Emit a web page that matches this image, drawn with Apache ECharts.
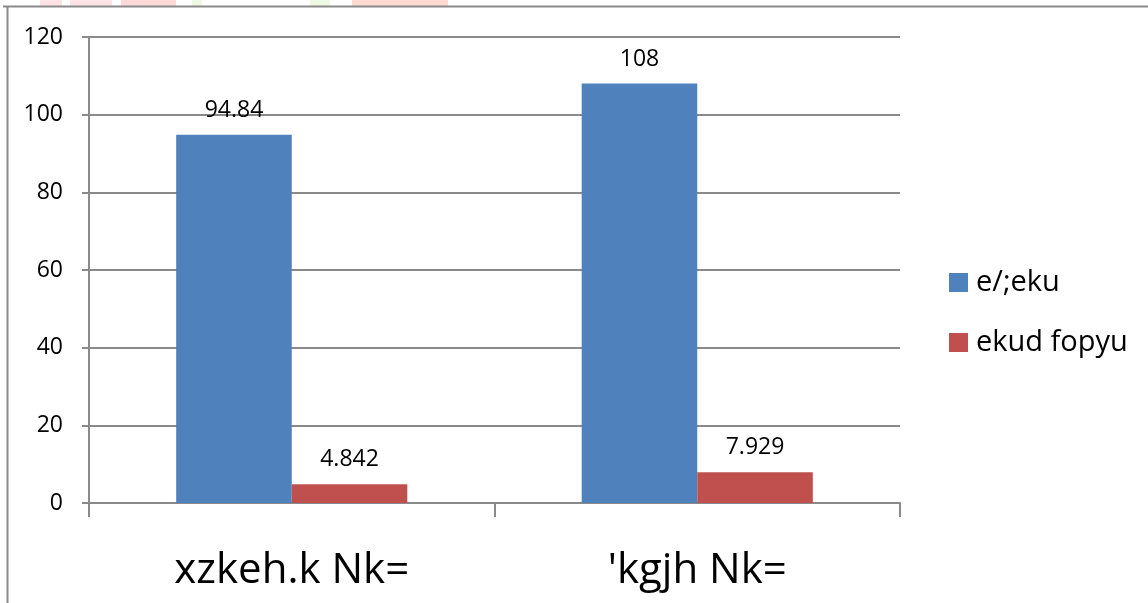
<!DOCTYPE html>
<html>
<head>
<meta charset="utf-8">
<script src="https://cdn.jsdelivr.net/npm/echarts@6/dist/echarts.min.js"></script>
<style>
  html, body { margin: 0; padding: 0; background: #fff; }
  #chart { width: 1148px; height: 603px; }
</style>
</head>
<body>
<div id="chart"></div>
<script>
// Category names and the two series
const categories = ['xzkeh.k Nk=', "'kgjh Nk="];
const seriesNames = ['e/;eku', 'ekud fopyu'];
const meanValues = [94.84, 108];
const sdValues = [4.842, 7.929];

const FONT = '"Open Sans", "Noto Sans", sans-serif';
const GRID_GRAY = '#8a8a8a';

const chart = echarts.init(document.getElementById('chart'), null, { renderer: 'canvas' });

const labelStyle = {
  show: true,
  position: 'top',
  distance: 13,
  color: '#000',
  fontFamily: FONT,
  fontSize: 23
};

chart.setOption({
  backgroundColor: '#fff',
  animation: false,
  graphic: [
    // faint coloured band along the top edge
    { type: 'rect', shape: { x: 40, y: 0, width: 22, height: 6 }, style: { fill: '#fde3e3' }, silent: true },
    { type: 'rect', shape: { x: 70, y: 0, width: 42, height: 6 }, style: { fill: '#fde3e3' }, silent: true },
    { type: 'rect', shape: { x: 121, y: 0, width: 55, height: 6 }, style: { fill: '#fdd9d9' }, silent: true },
    { type: 'rect', shape: { x: 192, y: 0, width: 10, height: 6 }, style: { fill: '#eef8e4' }, silent: true },
    { type: 'rect', shape: { x: 310, y: 0, width: 20, height: 6 }, style: { fill: '#eef8e4' }, silent: true },
    { type: 'rect', shape: { x: 352, y: 0, width: 96, height: 6 }, style: { fill: '#fdd9d2' }, silent: true },
    // outer frame: top and left edges
    { type: 'line', shape: { x1: 3, y1: 6.5, x2: 1148, y2: 6.5 }, style: { stroke: '#8a8a8a', lineWidth: 2 }, silent: true },
    { type: 'line', shape: { x1: 7.5, y1: 6, x2: 7.5, y2: 603 }, style: { stroke: '#8a8a8a', lineWidth: 2 }, silent: true }
  ],
  grid: { left: 89, right: 248, top: 37, bottom: 100, containLabel: false },
  legend: {
    orient: 'vertical',
    left: 944,
    top: 263,
    itemWidth: 19,
    itemHeight: 19,
    itemGap: 31,
    icon: 'rect',
    data: seriesNames,
    textStyle: { fontFamily: FONT, fontSize: 29, color: '#000', padding: [0, 0, 0, 3] }
  },
  xAxis: {
    type: 'category',
    data: categories,
    axisLine: { lineStyle: { color: GRID_GRAY, width: 2 } },
    axisTick: { show: true, length: 14, lineStyle: { color: GRID_GRAY, width: 2 } },
    axisLabel: { fontFamily: FONT, fontSize: 42, color: '#000', margin: 47 }
  },
  yAxis: {
    type: 'value',
    min: 0,
    max: 120,
    interval: 20,
    axisLine: { show: true, lineStyle: { color: GRID_GRAY, width: 2 } },
    axisTick: { show: true, length: 7, lineStyle: { color: GRID_GRAY, width: 2 } },
    splitLine: { show: true, lineStyle: { color: GRID_GRAY, width: 2 } },
    axisLabel: { fontFamily: FONT, fontSize: 23, color: '#000', margin: 26 }
  },
  series: [
    {
      name: seriesNames[0],
      type: 'bar',
      data: meanValues,
      barGap: '0%',
      barCategoryGap: '43%',
      itemStyle: { color: '#4f81bd' },
      label: labelStyle
    },
    {
      name: seriesNames[1],
      type: 'bar',
      data: sdValues,
      itemStyle: { color: '#c0504d' },
      label: labelStyle
    }
  ]
});
</script>
</body>
</html>
